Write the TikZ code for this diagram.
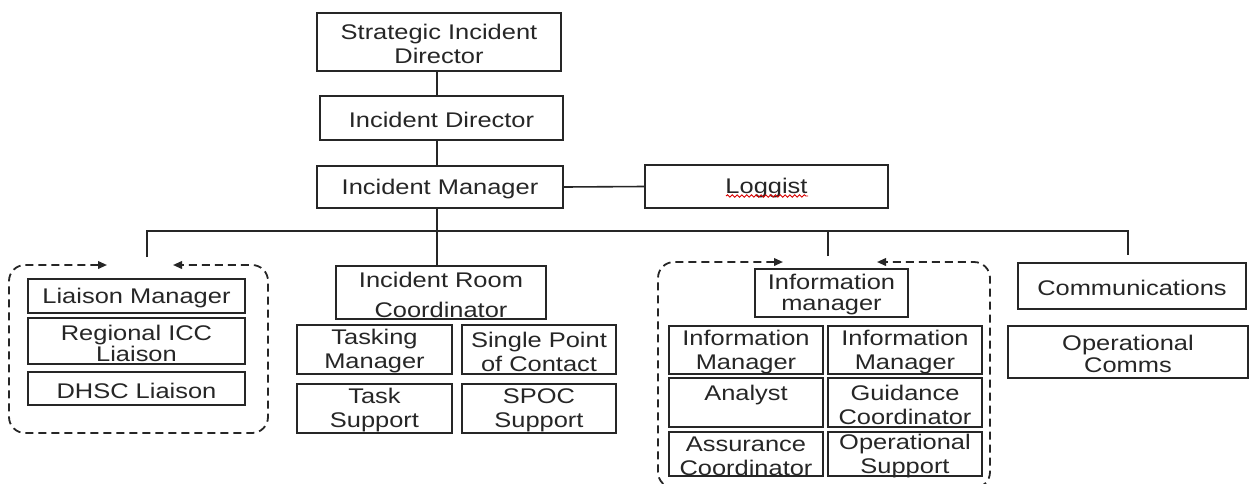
\documentclass[tikz,border=0pt]{standalone}
\usepackage{fontspec}
\setmainfont{Liberation Sans}[FakeStretch=1.2]
\usetikzlibrary{arrows.meta,decorations.pathmorphing}
\tikzset{
  box/.style={draw=black!85, line width=0.9pt, inner sep=0pt, text=black!85},
  conn/.style={draw=black!85, line width=0.8pt},
  grp/.style={draw=black!85, line width=0.9pt, dash pattern=on 4pt off 2.5pt,
    rounded corners=8pt,
    {Triangle[length=4.5pt,width=3.8pt]}-{Triangle[length=4.5pt,width=3.8pt]}},
  wavy/.style={draw=red!85!black, line width=0.45pt, decorate,
    decoration={snake, amplitude=0.6pt, segment length=2.4pt}}
}
% \bx[baselineskip]{name}{x1}{y1}{x2}{y2}{text}
\newcommand\bx[7][12]{%
  \node[box] (#2) at ({(#3+#5)/2},{(#4+#6)/2})
    {\parbox[c][\dimexpr(#6pt-#4pt)/2\relax][c]{\dimexpr(#5pt-#3pt)/2\relax}%
      {\vspace*{2pt}\centering\fontsize{10.6}{#1}\selectfont\lineskiplimit=-\maxdimen #7\par}};}
\begin{document}
\begin{tikzpicture}[x=0.5pt,y=-0.5pt]
  \fill[white] (0,0) rectangle (1254,483);
  \clip (0,0) rectangle (1254,483);
  % top column
  \bx{sid}{317}{13}{561}{71}{Strategic Incident\\Director}
  \bx{id}{320}{96}{563}{140}{Incident Director}
  \bx{im}{317}{166}{563}{208}{Incident Manager}
  \bx{log}{645}{165}{888}{208}{Loggist}
  % liaison group
  \bx{lm}{28}{279}{245}{313}{Liaison Manager}
  \bx[10.5]{ricc}{28}{318}{245}{364}{Regional ICC\\Liaison}
  \bx{dhsc}{28}{372}{245}{405}{DHSC Liaison}
  % incident room
  \bx[15]{irc}{336}{266}{546}{319}{Incident Room\\Coordinator}
  \bx{tm}{297}{325}{452}{374}{Tasking\\Manager}
  \bx{spc}{462}{325}{616}{374}{Single Point\\of Contact}
  \bx{ts}{297}{384}{452}{433}{Task\\Support}
  \bx{ss}{462}{384}{616}{433}{SPOC\\Support}
  % information group
  \bx[10.5]{infm}{755}{269}{908}{317}{Information\\manager}
  \bx{ia}{669}{326}{823}{374}{Information\\Manager}
  \bx{ib}{828}{326}{982}{374}{Information\\Manager}
  \bx{an}{669}{378}{823}{427}{Analyst\\\mbox{}}
  \bx{gc}{828}{378}{982}{427}{Guidance\\Coordinator}
  \bx{ac}{669}{432}{823}{476}{Assurance\\Coordinator}
  \bx{os}{828}{432}{982}{476}{Operational\\Support}
  % communications
  \bx{com}{1018}{263}{1246}{309}{Communications}
  \bx[11]{opc}{1008}{326}{1248}{378}{Operational\\Comms}
  % spell-check underline under Loggist
  \draw[wavy] (726,196) -- (808,196);
  % connectors
  \coordinate (vx) at (437,0);
  \coordinate (bL) at (147,231);
  \coordinate (bR) at (1128,231);
  \coordinate (dL) at (147,257);
  \coordinate (dR) at (828,256);
  \coordinate (dC) at (1128,255);
  \draw[conn] (vx |- sid.south) -- (vx |- id.north);
  \draw[conn] (vx |- id.south) -- (vx |- im.north);
  \draw[conn] (vx |- im.south) -- (vx |- irc.north);
  \draw[conn] (im.east) -- (log.west);
  \draw[conn] (dL) -- (bL) -- (bR) -- (dC);
  \draw[conn] (dR) -- (dR |- bL);
  % dashed groups
  \draw[grp] (107,265) -- (9,265) -- (9,433) -- (268,433) -- (268,265) -- (173,265);
  \draw[grp] (783,262) -- (658,262) -- (658,488) -- (990,488) -- (990,262) -- (877,262);
\end{tikzpicture}
\end{document}
